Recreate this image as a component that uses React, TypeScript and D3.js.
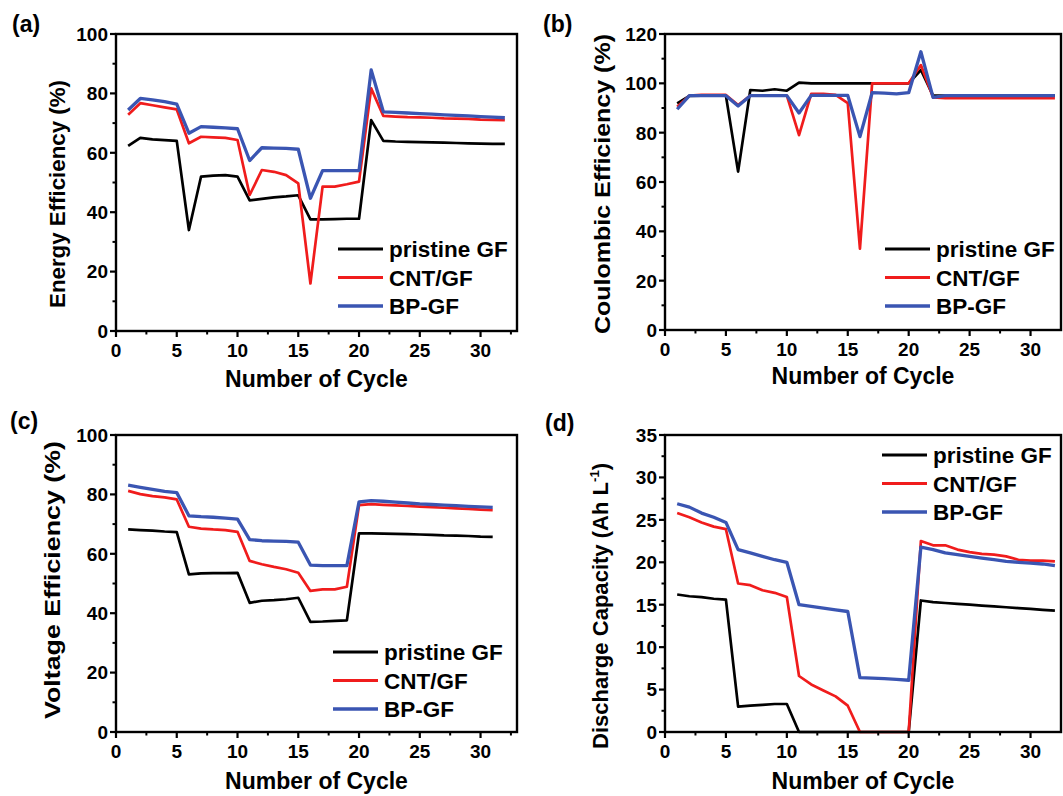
import React from 'react'
import * as d3 from 'd3'

// cycle numbers
const cycles32 = [1, 2, 3, 4, 5, 6, 7, 8, 9, 10, 11, 12, 13, 14, 15, 16, 17, 18, 19, 20, 21, 22, 23, 24, 25, 26, 27, 28, 29, 30, 31, 32]
const cycles31 = [1, 2, 3, 4, 5, 6, 7, 8, 9, 10, 11, 12, 13, 14, 15, 16, 17, 18, 19, 20, 21, 22, 23, 24, 25, 26, 27, 28, 29, 30, 31]

const seriesNames = ['pristine GF', 'CNT/GF', 'BP-GF']
const seriesColors = ['#000000', '#f01c1c', '#3a55b2']

// (a) energy efficiency (%)
const eePristine = [62.3, 65, 64.5, 64.3, 64, 34, 52, 52.3, 52.5, 52, 44, 44.5, 45, 45.3, 45.7, 37.6, 37.6, 37.7, 37.8, 37.8, 71, 64, 63.8, 63.7, 63.6, 63.5, 63.4, 63.3, 63.2, 63.1, 63, 63]
const eeCNT = [72.8, 76.7, 76, 75.3, 74.6, 63.2, 65.4, 65.2, 65, 64.3, 45.8, 54.2, 53.6, 52.5, 49.7, 16, 48.6, 48.6, 49.4, 50.3, 81.7, 72.4, 72.2, 72, 71.9, 71.8, 71.6, 71.5, 71.4, 71.2, 71.1, 71]
const eeBP = [74.4, 78.3, 77.8, 77.2, 76.4, 66.6, 68.8, 68.6, 68.4, 68.1, 57.4, 61.7, 61.6, 61.5, 61.2, 44.7, 54, 54, 54, 54, 87.9, 73.8, 73.6, 73.4, 73.2, 73, 72.8, 72.6, 72.4, 72.2, 72, 71.8]

// (b) coulombic efficiency (%)
const cePristine = [91.9, 94.9, 95, 95, 95, 64.2, 97.3, 97, 97.6, 97, 100.3, 100, 100, 100, 100, 100, 100, 100, 100, 100, 105.4, 95, 95, 95, 95, 95, 95, 95, 95, 95, 95, 95]
const ceCNT = [90.5, 95, 95.3, 95.3, 95.3, 91.2, 95, 95, 95, 95, 79, 95.7, 95.7, 95.3, 92, 33, 100, 100, 100, 100, 107.4, 94.3, 94, 94, 94, 94, 94, 94, 94, 94, 94, 94]
const ceBP = [89.5, 95, 95, 95, 95, 90.8, 95, 95, 95, 95, 88, 95.1, 95.1, 95.1, 95.1, 78.4, 96.2, 96, 95.7, 96.2, 112.8, 94.3, 95, 95, 95, 95, 95, 95, 95, 95, 95, 95]

// (c) voltage efficiency (%)
const vePristine = [68.2, 68, 67.8, 67.5, 67.3, 53.1, 53.4, 53.5, 53.5, 53.6, 43.5, 44.2, 44.4, 44.7, 45.2, 37.1, 37.2, 37.4, 37.6, 66.9, 66.9, 66.8, 66.7, 66.6, 66.5, 66.4, 66.2, 66.1, 66, 65.8, 65.7]
const veCNT = [81.2, 80.1, 79.4, 79, 78.3, 69.1, 68.5, 68.2, 68, 67.4, 57.6, 56.5, 55.6, 54.8, 53.6, 47.5, 48, 48, 48.9, 76.4, 76.7, 76.5, 76.3, 76.1, 75.9, 75.7, 75.5, 75.3, 75.1, 74.9, 74.7]
const veBP = [83.1, 82.4, 81.7, 81, 80.6, 72.8, 72.5, 72.3, 72, 71.7, 64.8, 64.4, 64.3, 64.2, 63.9, 56.2, 56, 56, 56, 77.5, 77.9, 77.7, 77.4, 77.1, 76.8, 76.6, 76.4, 76.2, 76, 75.8, 75.6]

// (d) discharge capacity (Ah L-1)
const dcPristine = [16.2, 16, 15.9, 15.7, 15.6, 3, 3.1, 3.2, 3.3, 3.3, 0, 0, 0, 0, 0, 0, 0, 0, 0, 0, 15.5, 15.3, 15.2, 15.1, 15, 14.9, 14.8, 14.7, 14.6, 14.5, 14.4, 14.3]
const dcCNT = [25.8, 25.3, 24.7, 24.2, 23.9, 17.5, 17.3, 16.7, 16.4, 15.9, 6.6, 5.6, 4.9, 4.2, 3.1, 0, 0, 0, 0, 0, 22.5, 22, 22, 21.5, 21.2, 21, 20.9, 20.7, 20.3, 20.2, 20.2, 20.1]
const dcBP = [26.9, 26.5, 25.8, 25.3, 24.7, 21.5, 21.1, 20.7, 20.3, 20, 15, 14.8, 14.6, 14.4, 14.2, 6.4, 6.35, 6.3, 6.2, 6.1, 21.8, 21.5, 21.1, 20.9, 20.7, 20.5, 20.3, 20.1, 20, 19.9, 19.8, 19.6]

const xTickValues = [0, 5, 10, 15, 20, 25, 30]
const effTicks = [0, 20, 40, 60, 80, 100]
const ceTicks = [0, 20, 40, 60, 80, 100, 120]
const capTicks = [0, 5, 10, 15, 20, 25, 30, 35]

const FONT = '"Liberation Sans", Arial, Helvetica, sans-serif'

type PanelProps = {
  label: string
  x0: number
  x1: number
  yTop: number
  yBot: number
  xMax: number
  yMax: number
  yTicks: number[]
  yMinor: number
  cycles: number[]
  series: number[][]
  title: React.ReactNode
  titleX: number
  titleLen: number
  titleY: number
  labelX: number
  labelY: number
  xTitleDy: number
  legendX: number
  legendY: number
}

const Panel = (p: PanelProps) => {
  const x = d3.scaleLinear().domain([0, p.xMax]).range([p.x0, p.x1])
  const y = d3.scaleLinear().domain([0, p.yMax]).range([p.yBot, p.yTop])
  const line = d3.line<[number, number]>().x(d => x(d[0])).y(d => y(d[1]))
  const xMinor = d3.range(2.5, p.xMax, 5)
  const yMinor = d3.range(p.yMinor, p.yMax, p.yMinor * 2)

  return (
    <g fontFamily={FONT} fontWeight="bold">
      <text x={p.labelX} y={p.labelY} fontSize={23}>{p.label}</text>

      {/* data */}
      {p.series.map((vals, i) => (
        <path key={i}
          d={line(p.cycles.map((c, j) => [c, vals[j]] as [number, number])) || ''}
          fill="none" stroke={seriesColors[i]} strokeWidth={i === 2 ? 3.3 : 2.7}
          strokeLinejoin="round" />
      ))}

      {/* frame */}
      <rect x={p.x0} y={p.yTop} width={p.x1 - p.x0} height={p.yBot - p.yTop}
        fill="none" stroke="#000" strokeWidth={2.4} />

      {/* x axis */}
      {xTickValues.map(t => (
        <g key={t}>
          <line x1={x(t)} x2={x(t)} y1={p.yBot} y2={p.yBot + 6} stroke="#000" strokeWidth={2.2} />
          <text x={x(t)} y={p.yBot + 26} fontSize={19} textAnchor="middle">{t}</text>
        </g>
      ))}
      {xMinor.map(t => (
        <line key={t} x1={x(t)} x2={x(t)} y1={p.yBot} y2={p.yBot + 3.5} stroke="#000" strokeWidth={2} />
      ))}
      <text x={(p.x0 + p.x1) / 2} y={p.yBot + p.xTitleDy} fontSize={23} textAnchor="middle">Number of Cycle</text>

      {/* y axis */}
      {p.yTicks.map(t => (
        <g key={t}>
          <line x1={p.x0 - 6} x2={p.x0} y1={y(t)} y2={y(t)} stroke="#000" strokeWidth={2.2} />
          <text x={p.x0 - 8} y={y(t)} dy="0.36em" fontSize={19} textAnchor="end">{t}</text>
        </g>
      ))}
      {yMinor.map(t => (
        <line key={t} x1={p.x0 - 3.5} x2={p.x0} y1={y(t)} y2={y(t)} stroke="#000" strokeWidth={2} />
      ))}
      <text transform={`translate(${p.titleX},${p.titleY}) rotate(-90)`} fontSize={22}
        textAnchor="middle" dy="0.35em" textLength={p.titleLen} lengthAdjust="spacingAndGlyphs">
        {p.title}
      </text>

      {/* legend */}
      {seriesNames.map((n, i) => (
        <g key={n} transform={`translate(${p.legendX},${p.legendY + i * 28.5})`}>
          <line x1={0} x2={45} y1={0} y2={0} stroke={seriesColors[i]} strokeWidth={i === 2 ? 3.6 : 3.2} />
          <text x={51} y={0} dy="0.36em" fontSize={22.5}>{n}</text>
        </g>
      ))}
    </g>
  )
}

const App = () => {
  return (
    <svg width={1063} height={796} style={{ position: 'absolute', left: 0, top: 0, background: '#fff' }}>
      <Panel label="(a)" labelX={12} labelY={32}
        x0={116} x1={517} yTop={34} yBot={331} xMax={33} yMax={100}
        yTicks={effTicks} yMinor={10} cycles={cycles32} series={[eePristine, eeCNT, eeBP]}
        title="Energy Efficiency (%)" titleX={57} titleY={194} titleLen={228}
        xTitleDy={56} legendX={338} legendY={249} />
      <Panel label="(b)" labelX={543} labelY={32}
        x0={665} x1={1061} yTop={34} yBot={330} xMax={32.5} yMax={120}
        yTicks={ceTicks} yMinor={10} cycles={cycles32} series={[cePristine, ceCNT, ceBP]}
        title="Coulombic Efficiency (%)" titleX={602} titleY={184} titleLen={300}
        xTitleDy={54} legendX={885} legendY={249} />
      <Panel label="(c)" labelX={10} labelY={429}
        x0={116} x1={517} yTop={435} yBot={732} xMax={33} yMax={100}
        yTicks={effTicks} yMinor={10} cycles={cycles31} series={[vePristine, veCNT, veBP]}
        title="Voltage Efficiency (%)" titleX={52} titleY={580} titleLen={278}
        xTitleDy={57} legendX={333} legendY={652} />
      <Panel label="(d)" labelX={545} labelY={431}
        x0={665} x1={1061} yTop={435} yBot={732} xMax={32.5} yMax={35}
        yTicks={capTicks} yMinor={2.5} cycles={cycles32} series={[dcPristine, dcCNT, dcBP]}
        title={<>Discharge Capacity (Ah L<tspan fontSize={13} dy={-9}>-1</tspan><tspan dy={9}>)</tspan></>}
        titleX={600} titleY={606} titleLen={286}
        xTitleDy={57} legendX={882} legendY={455} />
    </svg>
  )
}

export default App
